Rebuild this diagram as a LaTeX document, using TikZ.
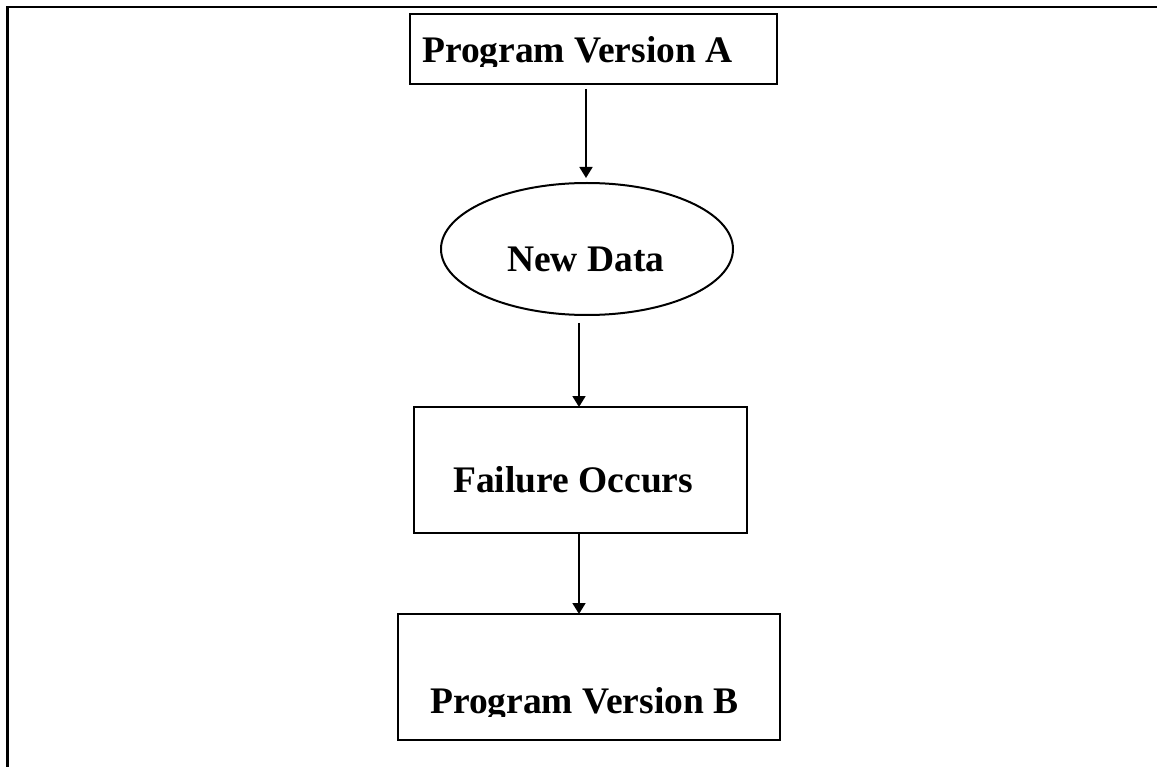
\documentclass[tikz,border=0pt]{standalone}
\usepackage{fontspec}
\setmainfont{Liberation Serif}
\usetikzlibrary{shapes.geometric,arrows.meta,calc}
\begin{document}
\begin{tikzpicture}[x=1pt,y=-1pt,
  box/.style={draw,line width=2pt,inner sep=0pt,outer sep=0pt},
  lbl/.style={font=\fontsize{37.5}{44}\selectfont\bfseries,inner sep=0pt,anchor=base west},
  arr/.style={line width=1.8pt,-{Triangle[length=11pt,width=13pt]}}]
\useasboundingbox (0,0) rectangle (1157,767);
\draw[line width=2.8pt] (7.8,767) -- (7.8,7) -- (1157,7);
\node[box,minimum width=367pt,minimum height=70pt] (A) at (593.5,49) {};
\node[box,ellipse,minimum width=292pt,minimum height=132pt] (N) at (587,249) {};
\node[box,minimum width=333pt,minimum height=126pt] (F) at (580.5,470) {};
\node[box,minimum width=382pt,minimum height=126pt] (B) at (589,677) {};
\begin{scope}
  \clip (410,14) rectangle (777,67);
  \node[lbl] (tA) at (422,63) {Program Version A};
\end{scope}
\node[lbl] (tN) at (507,272) {New Data};
\node[lbl] (tF) at (453,492) {Failure Occurs};
\begin{scope}
  \clip (398,614) rectangle (780,716);
  \node[lbl] (tB) at (430,713) {Program Version B};
\end{scope}
\draw[arr] ($(A.south)+(-7.5,5)$) -- ($(N.north)+(-1,-5)$);
\draw[arr] ($(N.south)+(-8,8)$) -- ($(F.north)+(-1.5,0)$);
\draw[arr] ($(F.south)+(-1.5,0)$) -- ($(B.north)+(-10,0)$);
\end{tikzpicture}
\end{document}
